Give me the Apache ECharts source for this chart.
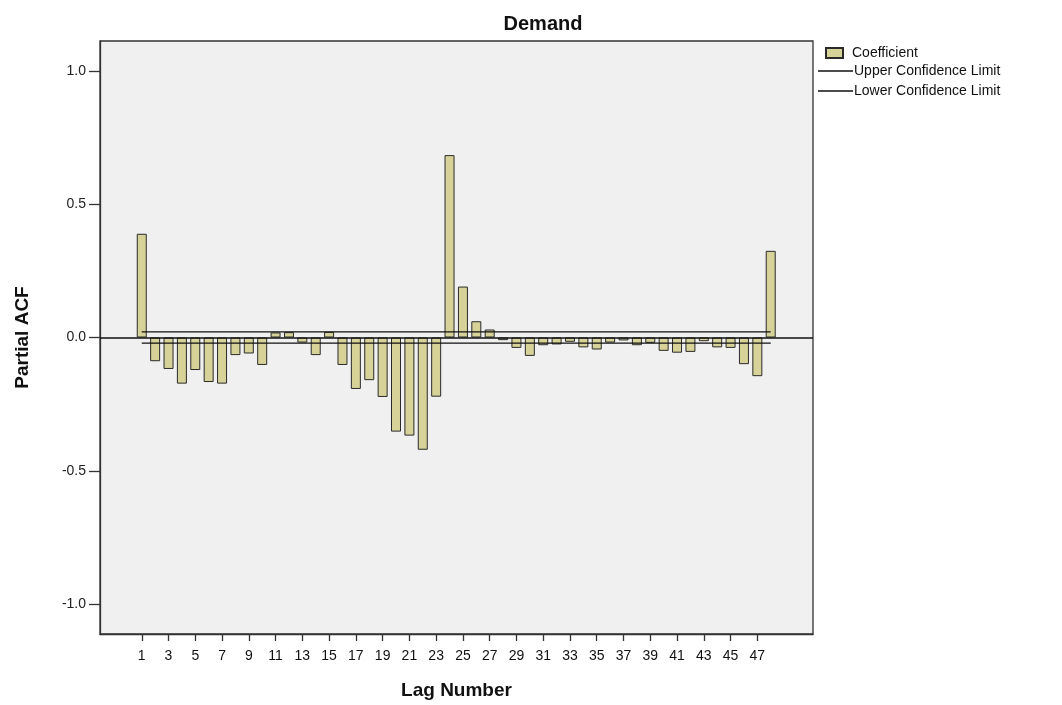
<!DOCTYPE html>
<html>
<head>
<meta charset="utf-8">
<script src="https://cdn.jsdelivr.net/npm/echarts@6/dist/echarts.min.js"></script>
<style>
html,body{margin:0;padding:0;background:#fff;}
#chart{width:1062px;height:705px;}
</style>
</head>
<body>
<div id="chart"></div>
<script>
const lags = [1,2,3,4,5,6,7,8,9,10,11,12,13,14,15,16,17,18,19,20,21,22,23,24,25,26,27,28,29,30,31,32,33,34,35,36,37,38,39,40,41,42,43,44,45,46,47,48];
const pacf = [0.389,-0.089,-0.118,-0.173,-0.122,-0.167,-0.173,-0.066,-0.060,-0.103,
  0.019,0.020,-0.019,-0.066,0.021,-0.103,-0.193,-0.160,-0.223,-0.353,
  -0.368,-0.421,-0.222,0.684,0.191,0.061,0.030,-0.010,-0.039,-0.069,
  -0.029,-0.026,-0.016,-0.037,-0.045,-0.019,-0.011,-0.029,-0.020,-0.050,
  -0.057,-0.054,-0.014,-0.037,-0.039,-0.100,-0.145,0.325];
const upperLimit = 0.021;
const lowerLimit = -0.021;
const xTickValues = [1,3,5,7,9,11,13,15,17,19,21,23,25,27,29,31,33,35,37,39,41,43,45,47];
const yTickValues = [-1.0,-0.5,0.0,0.5,1.0];

const font = 'Liberation Sans, Arial, sans-serif';
const chart = echarts.init(document.getElementById('chart'), null, {renderer:'canvas'});
chart.setOption({
  animation:false,
  backgroundColor:'#ffffff',
  title:{
    text:'Demand', left:538, top:9, textAlign:'center',
    textStyle:{fontFamily:font, fontSize:20, fontWeight:'bold', color:'#111'}
  },
  legend:[{
    data:['Coefficient'], orient:'vertical', left:825, top:46, padding:0,
    itemWidth:17, itemHeight:10, icon:'rect',
    textStyle:{fontFamily:font, fontSize:14, color:'#111', padding:[0,0,0,4]}
  },{
    data:['Upper Confidence Limit','Lower Confidence Limit'], orient:'vertical', left:818, top:64, padding:0,
    itemWidth:35, itemHeight:1.5, itemGap:6, icon:'rect',
    itemStyle:{color:'#111', borderWidth:0},
    textStyle:{fontFamily:font, fontSize:14, color:'#111', padding:[0,0,0,-4]}
  }],
  grid:{
    left:100, right:249, top:41, bottom:70,
    show:true, backgroundColor:'#f0f0f0', borderColor:'#333', borderWidth:1.3
  },
  xAxis:{
    type:'value', min:-2.12, max:51.16,
    name:'Lag Number', nameLocation:'middle', nameGap:47,
    nameTextStyle:{fontFamily:font, fontSize:19, fontWeight:'bold', color:'#111'},
    axisLine:{show:true, onZero:false, lineStyle:{color:'#333', width:1.3}},
    axisTick:{show:true, length:7, customValues:xTickValues, lineStyle:{color:'#333', width:1.3}},
    axisLabel:{customValues:xTickValues, fontFamily:font, fontSize:14, color:'#111', margin:15},
    splitLine:{show:false}
  },
  yAxis:{
    type:'value', min:-1.112, max:1.112,
    name:'Partial ACF', nameLocation:'middle', nameGap:68, nameRotate:90,
    nameTextStyle:{fontFamily:font, fontSize:19, fontWeight:'bold', color:'#111'},
    axisLine:{show:true, onZero:false, lineStyle:{color:'#333', width:1.3}},
    axisTick:{show:true, length:11, customValues:yTickValues, lineStyle:{color:'#333', width:1.3}},
    axisLabel:{customValues:yTickValues, fontFamily:font, fontSize:14, color:'#222', margin:14,
      formatter:function(v){return v.toFixed(1);}},
    splitLine:{show:false}
  },
  series:[{
    name:'Coefficient', type:'bar', barWidth:10,
    data:lags.map((l,i)=>[l,pacf[i]]),
    itemStyle:{color:'#d6d298', borderColor:'#2a2a2a', borderWidth:1},
    markLine:{
      silent:true, symbol:'none', label:{show:false},
      lineStyle:{color:'#111', width:1.5, type:'solid'},
      data:[{yAxis:0}]
    },
    z:2
  },{
    name:'Upper Confidence Limit', type:'line', symbol:'none',
    data:lags.map(l=>[l,upperLimit]),
    lineStyle:{color:'#111', width:1.3}, itemStyle:{color:'#111'}, z:3
  },{
    name:'Lower Confidence Limit', type:'line', symbol:'none',
    data:lags.map(l=>[l,lowerLimit]),
    lineStyle:{color:'#111', width:1.3}, itemStyle:{color:'#111'}, z:3
  }]
});
</script>
</body>
</html>
